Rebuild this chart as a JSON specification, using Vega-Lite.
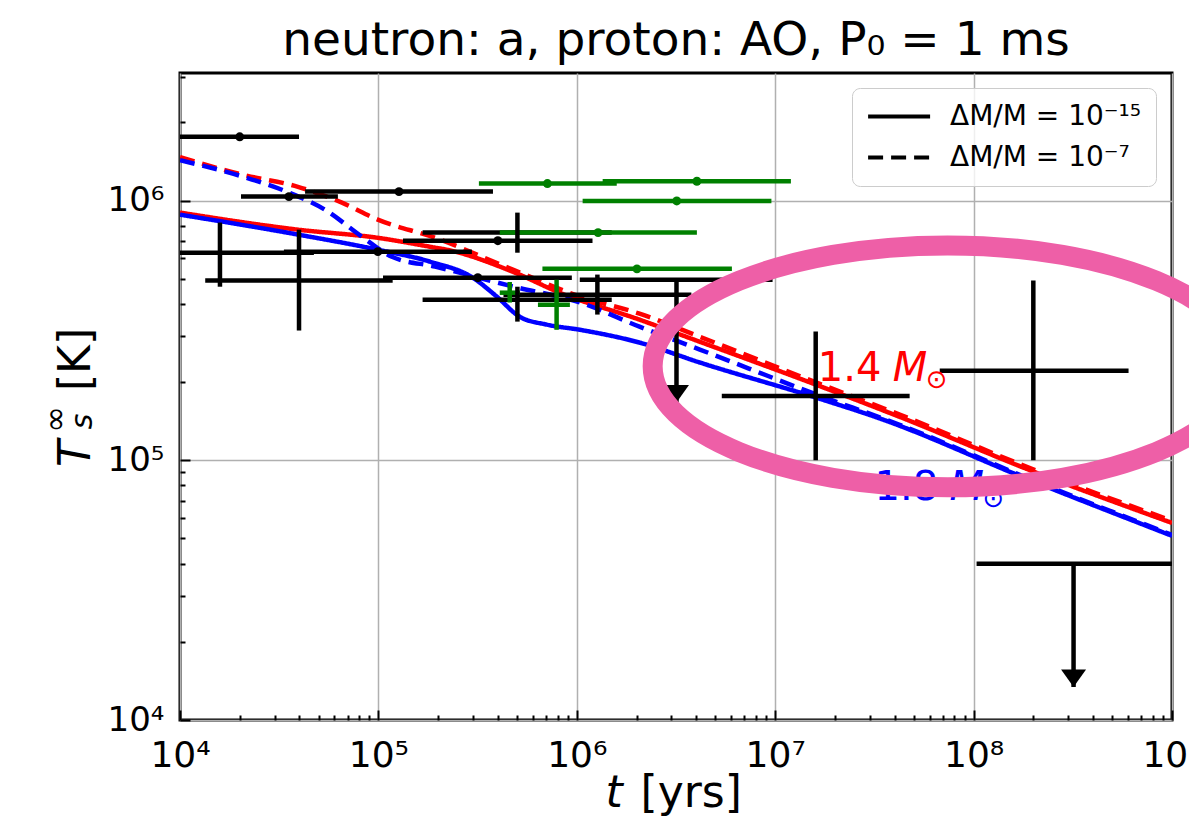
{
  "$schema": "https://vega.github.io/schema/vega-lite/v6.json",
  "width": 992,
  "height": 647,
  "autosize": {"type": "none"},
  "padding": {"left": 180, "top": 73, "right": 17, "bottom": 104},
  "background": "white",
  "config": {
    "view": {"stroke": "black", "strokeWidth": 3},
    "font": "DejaVu Sans",
    "axis": {"labelFont": "DejaVu Sans", "titleFont": "DejaVu Sans", "titleFontWeight": "normal", "labelColor": "black", "titleColor": "black"}
  },
  "title": {
    "text": "neutron: a, proton: AO, P₀ = 1 ms",
    "font": "DejaVu Sans",
    "fontSize": 47,
    "fontWeight": "normal",
    "color": "black",
    "anchor": "middle",
    "baseline": "bottom",
    "offset": 8,
    "dy": 47
  },
  "datasets": {
    "curves": [
      {"t": 1e4, "T": 8.99e5, "mass": "1.4", "dm": "ΔM/M = 10⁻¹⁵"},
      {"t": 3.93e4, "T": 7.73e5, "mass": "1.4", "dm": "ΔM/M = 10⁻¹⁵"},
      {"t": 9.93e4, "T": 7.19e5, "mass": "1.4", "dm": "ΔM/M = 10⁻¹⁵"},
      {"t": 1.93e5, "T": 6.59e5, "mass": "1.4", "dm": "ΔM/M = 10⁻¹⁵"},
      {"t": 2.21e5, "T": 6.47e5, "mass": "1.4", "dm": "ΔM/M = 10⁻¹⁵"},
      {"t": 4.76e5, "T": 5.32e5, "mass": "1.4", "dm": "ΔM/M = 10⁻¹⁵"},
      {"t": 8.2e5, "T": 4.42e5, "mass": "1.4", "dm": "ΔM/M = 10⁻¹⁵"},
      {"t": 2.07e6, "T": 3.48e5, "mass": "1.4", "dm": "ΔM/M = 10⁻¹⁵"},
      {"t": 4.17e6, "T": 2.86e5, "mass": "1.4", "dm": "ΔM/M = 10⁻¹⁵"},
      {"t": 1.62e7, "T": 1.95e5, "mass": "1.4", "dm": "ΔM/M = 10⁻¹⁵"},
      {"t": 4.24e7, "T": 1.47e5, "mass": "1.4", "dm": "ΔM/M = 10⁻¹⁵"},
      {"t": 1.91e8, "T": 9.18e4, "mass": "1.4", "dm": "ΔM/M = 10⁻¹⁵"},
      {"t": 1e9, "T": 5.74e4, "mass": "1.4", "dm": "ΔM/M = 10⁻¹⁵"},

      {"t": 1e4, "T": 8.83e5, "mass": "1.8", "dm": "ΔM/M = 10⁻¹⁵"},
      {"t": 3.93e4, "T": 7.40e5, "mass": "1.8", "dm": "ΔM/M = 10⁻¹⁵"},
      {"t": 9.93e4, "T": 6.47e5, "mass": "1.8", "dm": "ΔM/M = 10⁻¹⁵"},
      {"t": 1.82e5, "T": 5.82e5, "mass": "1.8", "dm": "ΔM/M = 10⁻¹⁵"},
      {"t": 2.99e5, "T": 5.05e5, "mass": "1.8", "dm": "ΔM/M = 10⁻¹⁵"},
      {"t": 3.95e5, "T": 4.27e5, "mass": "1.8", "dm": "ΔM/M = 10⁻¹⁵"},
      {"t": 5.16e5, "T": 3.57e5, "mass": "1.8", "dm": "ΔM/M = 10⁻¹⁵"},
      {"t": 7.06e5, "T": 3.33e5, "mass": "1.8", "dm": "ΔM/M = 10⁻¹⁵"},
      {"t": 1.04e6, "T": 3.18e5, "mass": "1.8", "dm": "ΔM/M = 10⁻¹⁵"},
      {"t": 2.07e6, "T": 2.84e5, "mass": "1.8", "dm": "ΔM/M = 10⁻¹⁵"},
      {"t": 4.17e6, "T": 2.38e5, "mass": "1.8", "dm": "ΔM/M = 10⁻¹⁵"},
      {"t": 1.62e7, "T": 1.74e5, "mass": "1.8", "dm": "ΔM/M = 10⁻¹⁵"},
      {"t": 3.36e7, "T": 1.45e5, "mass": "1.8", "dm": "ΔM/M = 10⁻¹⁵"},
      {"t": 1.91e8, "T": 8.41e4, "mass": "1.8", "dm": "ΔM/M = 10⁻¹⁵"},
      {"t": 1e9, "T": 5.12e4, "mass": "1.8", "dm": "ΔM/M = 10⁻¹⁵"},

      {"t": 1e4, "T": 1.47e6, "mass": "1.4", "dm": "ΔM/M = 10⁻⁷"},
      {"t": 2.05e4, "T": 1.26e6, "mass": "1.4", "dm": "ΔM/M = 10⁻⁷"},
      {"t": 3.93e4, "T": 1.13e6, "mass": "1.4", "dm": "ΔM/M = 10⁻⁷"},
      {"t": 6.55e4, "T": 9.82e5, "mass": "1.4", "dm": "ΔM/M = 10⁻⁷"},
      {"t": 9.93e4, "T": 8.45e5, "mass": "1.4", "dm": "ΔM/M = 10⁻⁷"},
      {"t": 1.93e5, "T": 7.19e5, "mass": "1.4", "dm": "ΔM/M = 10⁻⁷"},
      {"t": 4.76e5, "T": 5.42e5, "mass": "1.4", "dm": "ΔM/M = 10⁻⁷"},
      {"t": 1.04e6, "T": 4.27e5, "mass": "1.4", "dm": "ΔM/M = 10⁻⁷"},
      {"t": 2.07e6, "T": 3.67e5, "mass": "1.4", "dm": "ΔM/M = 10⁻⁷"},
      {"t": 4.17e6, "T": 2.99e5, "mass": "1.4", "dm": "ΔM/M = 10⁻⁷"},
      {"t": 1.62e7, "T": 1.99e5, "mass": "1.4", "dm": "ΔM/M = 10⁻⁷"},
      {"t": 4.24e7, "T": 1.50e5, "mass": "1.4", "dm": "ΔM/M = 10⁻⁷"},
      {"t": 1.91e8, "T": 9.35e4, "mass": "1.4", "dm": "ΔM/M = 10⁻⁷"},
      {"t": 1e9, "T": 5.85e4, "mass": "1.4", "dm": "ΔM/M = 10⁻⁷"},

      {"t": 1e4, "T": 1.43e6, "mass": "1.8", "dm": "ΔM/M = 10⁻⁷"},
      {"t": 2.05e4, "T": 1.24e6, "mass": "1.8", "dm": "ΔM/M = 10⁻⁷"},
      {"t": 3.58e4, "T": 1.07e6, "mass": "1.8", "dm": "ΔM/M = 10⁻⁷"},
      {"t": 5.37e4, "T": 9.23e5, "mass": "1.8", "dm": "ΔM/M = 10⁻⁷"},
      {"t": 8.26e4, "T": 7.26e5, "mass": "1.8", "dm": "ΔM/M = 10⁻⁷"},
      {"t": 1.17e5, "T": 6.08e5, "mass": "1.8", "dm": "ΔM/M = 10⁻⁷"},
      {"t": 1.93e5, "T": 5.57e5, "mass": "1.8", "dm": "ΔM/M = 10⁻⁷"},
      {"t": 4.76e5, "T": 4.67e5, "mass": "1.8", "dm": "ΔM/M = 10⁻⁷"},
      {"t": 1.04e6, "T": 4.05e5, "mass": "1.8", "dm": "ΔM/M = 10⁻⁷"},
      {"t": 2.07e6, "T": 3.27e5, "mass": "1.8", "dm": "ΔM/M = 10⁻⁷"},
      {"t": 4.17e6, "T": 2.67e5, "mass": "1.8", "dm": "ΔM/M = 10⁻⁷"},
      {"t": 1.62e7, "T": 1.79e5, "mass": "1.8", "dm": "ΔM/M = 10⁻⁷"},
      {"t": 4.24e7, "T": 1.37e5, "mass": "1.8", "dm": "ΔM/M = 10⁻⁷"},
      {"t": 1.91e8, "T": 8.49e4, "mass": "1.8", "dm": "ΔM/M = 10⁻⁷"},
      {"t": 1e9, "T": 5.16e4, "mass": "1.8", "dm": "ΔM/M = 10⁻⁷"}
    ],
    "obs": [
      {"t": 2.0e4, "tlo": 1.0e4, "thi": 3.98e4, "T": 1.76e6, "dot": true, "series": "black"},
      {"t": 3.54e4, "tlo": 2.03e4, "thi": 6.25e4, "T": 1.036e6, "dot": true, "series": "black"},
      {"t": 1.27e5, "tlo": 4.27e4, "thi": 3.78e5, "T": 1.083e6, "dot": true, "series": "black"},
      {"t": 1.59e4, "tlo": 5.35e3, "thi": 4.73e4, "T": 6.30e5, "Tlo": 4.66e5, "Thi": 8.23e5, "dot": false, "series": "black"},
      {"t": 3.98e4, "tlo": 1.34e4, "thi": 1.18e5, "T": 4.92e5, "Tlo": 3.16e5, "Thi": 7.73e5, "dot": false, "series": "black"},
      {"t": 9.94e4, "tlo": 3.34e4, "thi": 2.96e5, "T": 6.36e5, "dot": true, "series": "black"},
      {"t": 3.17e5, "tlo": 1.055e5, "thi": 9.44e5, "T": 5.05e5, "dot": true, "series": "black"},
      {"t": 4.0e5, "tlo": 1.33e5, "thi": 1.2e6, "T": 7.01e5, "dot": true, "series": "black"},
      {"t": 5.02e5, "tlo": 1.67e5, "thi": 1.50e6, "T": 7.53e5, "Tlo": 6.30e5, "Thi": 8.99e5, "dot": false, "series": "black"},
      {"t": 5.02e5, "tlo": 1.67e5, "thi": 1.50e6, "T": 4.15e5, "Tlo": 3.42e5, "Thi": 4.66e5, "dot": false, "series": "black"},
      {"t": 1.27e6, "tlo": 4.27e5, "thi": 3.78e6, "T": 4.34e5, "Tlo": 3.64e5, "Thi": 5.19e5, "dot": false, "series": "black"},
      {"t": 1.60e7, "tlo": 5.38e6, "thi": 4.76e7, "T": 1.77e5, "Tlo": 1.0e5, "Thi": 3.13e5, "dot": false, "series": "black"},
      {"t": 2.0e8, "tlo": 6.75e7, "thi": 6.04e8, "T": 2.21e5, "Tlo": 1.0e5, "Thi": 4.92e5, "dot": false, "series": "black"},
      {"t": 1.28e6, "tlo": 4.09e5, "thi": 4.03e6, "T": 7.53e5, "dot": true, "series": "green"},
      {"t": 7.11e5, "tlo": 3.21e5, "thi": 1.59e6, "T": 1.163e6, "dot": true, "series": "green"},
      {"t": 4.03e6, "tlo": 1.35e6, "thi": 1.20e7, "T": 1.187e6, "dot": true, "series": "green"},
      {"t": 3.19e6, "tlo": 1.07e6, "thi": 9.57e6, "T": 9.97e5, "dot": true, "series": "green"},
      {"t": 2.01e6, "tlo": 6.71e5, "thi": 6.05e6, "T": 5.46e5, "dot": true, "series": "green"},
      {"t": 4.59e5, "tlo": 4.09e5, "thi": 5.16e5, "T": 4.42e5, "Tlo": 4.05e5, "Thi": 4.86e5, "dot": false, "series": "green"},
      {"t": 7.91e5, "tlo": 6.37e5, "thi": 9.23e5, "T": 3.97e5, "Tlo": 3.18e5, "Thi": 4.96e5, "dot": false, "series": "green"}
    ],
    "limits": [
      {"t": 3.18e6, "tlo": 1.035e6, "thi": 9.7e6, "T": 4.96e5, "Ttip": 1.67e5},
      {"t": 3.19e8, "tlo": 1.035e8, "thi": 1e9, "T": 4.0e4, "Ttip": 1.34e4}
    ],
    "labels": [
      {"t": 1.64e7, "T": 2.02e5, "mass": "1.4", "num": "1.4"},
      {"t": 3.17e7, "T": 7.05e4, "mass": "1.8", "num": "1.8"}
    ],
    "highlight": [
      {"t": 7.4e7, "T": 2.3e5}
    ]
  },
  "resolve": {"axis": {"x": "independent", "y": "independent"}},
  "layer": [
    {
      "data": {"name": "curves"},
      "mark": {"type": "line", "strokeWidth": 4.5, "interpolate": "monotone", "clip": true},
      "encoding": {
        "x": {
          "field": "t", "type": "quantitative",
          "scale": {"type": "log", "domain": [1e4, 1e9], "nice": false},
          "axis": {
            "orient": "bottom", "values": [1e4, 1e5, 1e6, 1e7, 1e8, 1e9],
            "labelExpr": "'10' + substring('⁰¹²³⁴⁵⁶⁷⁸⁹', round(log(datum.value)/LN10), round(log(datum.value)/LN10) + 1)",
            "labelFontSize": 36, "labelPadding": 18, "labelFlush": false, "labelOverlap": false,
            "grid": true, "gridColor": "#b0b0b0", "gridWidth": 1.5,
            "ticks": false, "domain": false,
            "title": "[yrs]", "titleFontSize": 44, "titleX": 460, "titleY": 86, "titleAlign": "left", "titleBaseline": "alphabetic"
          }
        },
        "y": {
          "field": "T", "type": "quantitative",
          "scale": {"type": "log", "domain": [1e4, 3.1e6], "nice": false},
          "axis": {
            "orient": "left", "values": [1e4, 1e5, 1e6],
            "labelExpr": "'10' + substring('⁰¹²³⁴⁵⁶⁷⁸⁹', round(log(datum.value)/LN10), round(log(datum.value)/LN10) + 1)",
            "labelFontSize": 34, "labelPadding": 16, "labelOverlap": false,
            "grid": true, "gridColor": "#b0b0b0", "gridWidth": 1.5,
            "ticks": false, "domain": false,
            "title": "[K]", "titleFontSize": 44, "titleAngle": -90, "titleX": -91, "titleY": 286, "titleAlign": "center", "titleBaseline": "alphabetic"
          }
        },
        "color": {
          "field": "mass", "type": "nominal",
          "scale": {"domain": ["1.4", "1.8", "black", "green"], "range": ["#ff0000", "#0000ff", "#000000", "#008000"]},
          "legend": null
        },
        "strokeDash": {
          "field": "dm", "type": "nominal",
          "scale": {"domain": ["ΔM/M = 10⁻¹⁵", "ΔM/M = 10⁻⁷"], "range": [[1, 0], [15, 8]]},
          "legend": {
            "title": null, "orient": "none", "legendX": 672, "legendY": 15,
            "fillColor": "rgba(255,255,255,0.8)", "strokeColor": "#cccccc", "cornerRadius": 8, "padding": 14,
            "labelFont": "DejaVu Sans", "labelFontSize": 28, "labelColor": "black", "labelOffset": 55, "labelLimit": 400,
            "symbolType": "M -1 0 L 4 0", "symbolSize": 615, "symbolStrokeWidth": 4, "symbolStrokeColor": "black", "symbolFillColor": "transparent",
            "rowPadding": 12
          }
        },
        "detail": {"field": "mass"}
      }
    },
    {
      "data": {"name": "obs"},
      "mark": {"type": "rule", "strokeWidth": 4.5, "clip": true},
      "encoding": {
        "x": {
          "field": "tlo", "type": "quantitative",
          "scale": {"type": "log", "domain": [1e4, 1e9], "nice": false},
          "axis": {
            "orient": "bottom", "values": [1e4, 1e5, 1e6, 1e7, 1e8, 1e9],
            "labels": false, "grid": false, "domain": false,
            "ticks": true, "tickSize": -10, "tickWidth": 2, "tickColor": "black",
            "title": "t", "titleFontSize": 44, "titleFontStyle": "italic", "titleX": 425, "titleY": 86, "titleAlign": "left", "titleBaseline": "alphabetic"
          }
        },
        "x2": {"field": "thi"},
        "y": {
          "field": "T", "type": "quantitative",
          "scale": {"type": "log", "domain": [1e4, 3.1e6], "nice": false},
          "axis": {
            "orient": "left", "values": [1e4, 1e5, 1e6],
            "labels": false, "grid": false, "domain": false,
            "ticks": true, "tickSize": -10, "tickWidth": 2, "tickColor": "black",
            "title": "T", "titleFontSize": 44, "titleFontStyle": "italic", "titleAngle": -90, "titleX": -91, "titleY": 380, "titleAlign": "center", "titleBaseline": "alphabetic"
          }
        },
        "color": {
          "field": "series", "type": "nominal",
          "scale": {"domain": ["1.4", "1.8", "black", "green"], "range": ["#ff0000", "#0000ff", "#000000", "#008000"]},
          "legend": null
        }
      }
    },
    {
      "data": {"name": "obs"},
      "transform": [{"filter": "isValid(datum.Tlo)"}],
      "mark": {"type": "rule", "strokeWidth": 4.5, "clip": true},
      "encoding": {
        "x": {
          "field": "t", "type": "quantitative",
          "scale": {"type": "log", "domain": [1e4, 1e9], "nice": false},
          "axis": {
            "orient": "bottom",
            "values": [2e4, 3e4, 4e4, 5e4, 6e4, 7e4, 8e4, 9e4, 2e5, 3e5, 4e5, 5e5, 6e5, 7e5, 8e5, 9e5, 2e6, 3e6, 4e6, 5e6, 6e6, 7e6, 8e6, 9e6, 2e7, 3e7, 4e7, 5e7, 6e7, 7e7, 8e7, 9e7, 2e8, 3e8, 4e8, 5e8, 6e8, 7e8, 8e8, 9e8],
            "labels": false, "grid": false, "domain": false,
            "ticks": true, "tickSize": -5, "tickWidth": 2, "tickColor": "black",
            "title": null
          }
        },
        "y": {
          "field": "Tlo", "type": "quantitative",
          "scale": {"type": "log", "domain": [1e4, 3.1e6], "nice": false},
          "axis": {
            "orient": "left",
            "values": [2e4, 3e4, 4e4, 5e4, 6e4, 7e4, 8e4, 9e4, 2e5, 3e5, 4e5, 5e5, 6e5, 7e5, 8e5, 9e5, 2e6, 3e6],
            "labels": false, "grid": false, "domain": false,
            "ticks": true, "tickSize": -5, "tickWidth": 2, "tickColor": "black",
            "title": "∞", "titleFontSize": 32, "titleAngle": -90, "titleX": -115, "titleY": 346, "titleAlign": "center", "titleBaseline": "alphabetic"
          }
        },
        "y2": {"field": "Thi"},
        "color": {
          "field": "series", "type": "nominal",
          "scale": {"domain": ["1.4", "1.8", "black", "green"], "range": ["#ff0000", "#0000ff", "#000000", "#008000"]},
          "legend": null
        }
      }
    },
    {
      "data": {"name": "obs"},
      "transform": [{"filter": "datum.dot"}],
      "mark": {"type": "point", "filled": true, "opacity": 1, "size": 80},
      "encoding": {
        "x": {"field": "t", "type": "quantitative", "scale": {"type": "log", "domain": [1e4, 1e9], "nice": false}, "axis": null},
        "y": {
          "field": "T", "type": "quantitative",
          "scale": {"type": "log", "domain": [1e4, 3.1e6], "nice": false},
          "axis": {
            "orient": "left", "values": [],
            "labels": false, "grid": false, "domain": false, "ticks": false,
            "title": "s", "titleFontSize": 30, "titleFontStyle": "italic", "titleAngle": -90, "titleX": -89, "titleY": 348, "titleAlign": "center", "titleBaseline": "alphabetic"
          }
        },
        "color": {
          "field": "series", "type": "nominal",
          "scale": {"domain": ["1.4", "1.8", "black", "green"], "range": ["#ff0000", "#0000ff", "#000000", "#008000"]},
          "legend": null
        }
      }
    },
    {
      "data": {"name": "limits"},
      "mark": {"type": "rule", "strokeWidth": 4.5, "color": "black", "clip": true},
      "encoding": {
        "x": {"field": "tlo", "type": "quantitative", "scale": {"type": "log", "domain": [1e4, 1e9], "nice": false}, "axis": null},
        "x2": {"field": "thi"},
        "y": {"field": "T", "type": "quantitative", "scale": {"type": "log", "domain": [1e4, 3.1e6], "nice": false}, "axis": null}
      }
    },
    {
      "data": {"name": "limits"},
      "mark": {"type": "rule", "strokeWidth": 4.5, "color": "black"},
      "encoding": {
        "x": {"field": "t", "type": "quantitative", "scale": {"type": "log", "domain": [1e4, 1e9], "nice": false}, "axis": null},
        "y": {"field": "T", "type": "quantitative", "scale": {"type": "log", "domain": [1e4, 3.1e6], "nice": false}, "axis": null},
        "y2": {"field": "Ttip"}
      }
    },
    {
      "data": {"name": "limits"},
      "mark": {"type": "point", "shape": "M -1 -1.4 L 1 -1.4 L 0 0 Z", "size": 625, "filled": true, "opacity": 1, "color": "black"},
      "encoding": {
        "x": {"field": "t", "type": "quantitative", "scale": {"type": "log", "domain": [1e4, 1e9], "nice": false}, "axis": null},
        "y": {"field": "Ttip", "type": "quantitative", "scale": {"type": "log", "domain": [1e4, 3.1e6], "nice": false}, "axis": null}
      }
    },
    {
      "data": {"name": "labels"},
      "mark": {"type": "text", "align": "left", "baseline": "alphabetic", "fontSize": 40, "font": "DejaVu Sans"},
      "encoding": {
        "x": {"field": "t", "type": "quantitative", "scale": {"type": "log", "domain": [1e4, 1e9], "nice": false}, "axis": null},
        "y": {"field": "T", "type": "quantitative", "scale": {"type": "log", "domain": [1e4, 3.1e6], "nice": false}, "axis": null},
        "text": {"field": "num"},
        "color": {
          "field": "mass", "type": "nominal",
          "scale": {"domain": ["1.4", "1.8", "black", "green"], "range": ["#ff0000", "#0000ff", "#000000", "#008000"]},
          "legend": null
        }
      }
    },
    {
      "data": {"name": "labels"},
      "mark": {"type": "text", "align": "left", "baseline": "alphabetic", "fontSize": 40, "fontStyle": "italic", "font": "DejaVu Sans", "dx": 75, "text": "M"},
      "encoding": {
        "x": {"field": "t", "type": "quantitative", "scale": {"type": "log", "domain": [1e4, 1e9], "nice": false}, "axis": null},
        "y": {"field": "T", "type": "quantitative", "scale": {"type": "log", "domain": [1e4, 3.1e6], "nice": false}, "axis": null},
        "color": {
          "field": "mass", "type": "nominal",
          "scale": {"domain": ["1.4", "1.8", "black", "green"], "range": ["#ff0000", "#0000ff", "#000000", "#008000"]},
          "legend": null
        }
      }
    },
    {
      "data": {"name": "labels"},
      "mark": {"type": "text", "align": "left", "baseline": "alphabetic", "fontSize": 26, "font": "DejaVu Sans", "dx": 108, "dy": 7, "text": "⊙"},
      "encoding": {
        "x": {"field": "t", "type": "quantitative", "scale": {"type": "log", "domain": [1e4, 1e9], "nice": false}, "axis": null},
        "y": {"field": "T", "type": "quantitative", "scale": {"type": "log", "domain": [1e4, 3.1e6], "nice": false}, "axis": null},
        "color": {
          "field": "mass", "type": "nominal",
          "scale": {"domain": ["1.4", "1.8", "black", "green"], "range": ["#ff0000", "#0000ff", "#000000", "#008000"]},
          "legend": null
        }
      }
    },
    {
      "data": {"name": "highlight"},
      "mark": {
        "type": "point",
        "shape": "M -1 0 A 1 0.41 0 1 0 1 0 A 1 0.41 0 1 0 -1 0 Z",
        "size": 348100, "filled": false, "opacity": 1,
        "stroke": "#ee5fa7", "strokeWidth": 20, "clip": false
      },
      "encoding": {
        "x": {"field": "t", "type": "quantitative", "scale": {"type": "log", "domain": [1e4, 1e9], "nice": false}, "axis": null},
        "y": {"field": "T", "type": "quantitative", "scale": {"type": "log", "domain": [1e4, 3.1e6], "nice": false}, "axis": null}
      }
    }
  ]
}
